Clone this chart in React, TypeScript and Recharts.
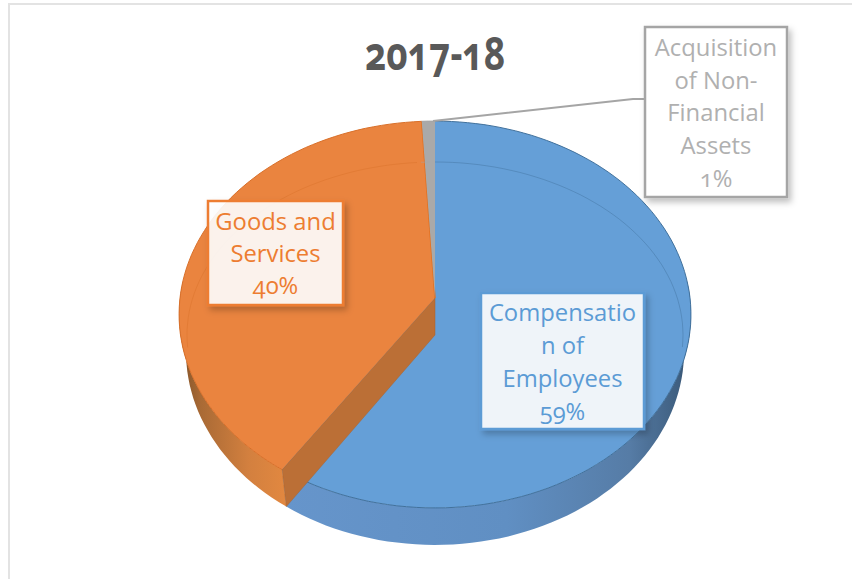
// App.tsx - 2017-18 expenditure pie, drawn as a tilted 3D disc
import React from "react";
import { PieChart, Pie, Cell } from "recharts";

const categories = ["Compensation of Employees", "Goods and Services", "Acquisition of Non-Financial Assets"];
const shares = [59.4, 39.7, 0.9];
const labelLines = [
  ["Compensatio", "n of", "Employees"],
  ["Goods and", "Services"],
  ["Acquisition", "of Non-", "Financial", "Assets"],
];
const title = "2017-18";

const topColors = ["#659fd7", "#ea843f", "#a9a9a9"];
const edgeColors = ["#41719c", "#d9702a", "#a5a5a5"];
const labelColors = ["#5b9bd5", "#ed7d31", "#b0b0b0"];

// label boxes: x, y, w, h, first baseline, line step
const labelBoxes = [
  { x: 481, y: 293, w: 163, h: 136, base: 321, step: 33 },
  { x: 208, y: 201, w: 135, h: 104, base: 230, step: 32 },
  { x: 645, y: 27, w: 142, h: 170, base: 56, step: 32.7 },
];

const FONT = "'Open Sans', Lato, sans-serif";
const TILT = 0.753;
const PERSP = -0.0853;
const DEPTH = 37;
const BOTTOM_SCALE = 0.973;

const data = categories.map((name, i) => ({ name, value: shares[i] }));

// tilted circle with a bit of perspective
function project(cx: number, cy: number, r: number, deg: number) {
  const a = (deg * Math.PI) / 180;
  const u = Math.cos(a);
  const v = -Math.sin(a);
  const w = 1 + PERSP * v;
  return [cx + (r * u) / w, cy + (r * TILT * v) / w];
}

function rimPoints(cx: number, cy: number, r: number, from: number, to: number) {
  const n = Math.max(2, Math.ceil(Math.abs(to - from) / 2));
  const pts: number[][] = [];
  for (let i = 0; i <= n; i++) pts.push(project(cx, cy, r, from + ((to - from) * i) / n));
  return pts;
}

const toPath = (pts: number[][]) => pts.map((p, i) => `${i ? "L" : "M"}${p[0].toFixed(1)} ${p[1].toFixed(1)}`).join(" ");

const Slice = (props: any) => {
  const { cx, cy, outerRadius: r, startAngle, endAngle, index } = props;
  const i = index ?? 0;
  const rim = rimPoints(cx, cy, r, startAngle, endAngle);
  const top = toPath([[cx, cy], ...rim]) + " Z";

  // front wall only shows on the near half of the disc
  const wallFrom = Math.min(startAngle, 5);
  const wallTo = Math.max(endAngle, -185);
  let wall = "";
  if (wallFrom > wallTo) {
    const upper = rimPoints(cx, cy, r, wallFrom, wallTo);
    const lower = upper
      .map((p) => [cx + (p[0] - cx) * BOTTOM_SCALE, p[1] + DEPTH])
      .reverse();
    wall = toPath([...upper, ...lower]) + " Z";
  }

  // cut face, only the orange slice shows it
  const end = rim[rim.length - 1];
  const start = rim[0];
  const cutBottom = [cx + (start[0] - cx) * BOTTOM_SCALE, start[1] + DEPTH];
  const cut = i === 1 ? toPath([[cx, cy], start, cutBottom, [cx, cy + DEPTH]]) + " Z" : "";

  // faint inner bevel ring on the far half of the top
  const bevel: number[][] = [];
  for (let a = startAngle; a >= endAngle; a -= 2) {
    const norm = ((a % 360) + 360) % 360;
    if (norm > 355 || norm < 185) {
      const t = (a * Math.PI) / 180;
      bevel.push([cx + 248 * Math.cos(t), cy + 37 - 173 * Math.sin(t)]);
    }
  }

  const gid = `wall${i}`;
  return (
    <g>
      <defs>
        {i === 0 ? (
          <linearGradient id={gid} x1="0" y1="0" x2="1" y2="0">
            <stop offset="0" stopColor="#6695cb" />
            <stop offset="0.55" stopColor="#608fc3" />
            <stop offset="0.85" stopColor="#567ca6" />
            <stop offset="0.97" stopColor="#3f5f80" />
            <stop offset="1" stopColor="#2f4a68" />
          </linearGradient>
        ) : (
          <linearGradient id={gid} x1="0" y1="0" x2="1" y2="0">
            <stop offset="0" stopColor="#7f5128" />
            <stop offset="0.2" stopColor="#a96a35" />
            <stop offset="0.65" stopColor="#d3803f" />
            <stop offset="1" stopColor="#e28840" />
          </linearGradient>
        )}
      </defs>
      {wall && <path d={wall} fill={`url(#${gid})`} stroke="none" />}
      <path d={top} fill={topColors[i]} stroke="none" />
      <path d={toPath(rim)} fill="none" stroke={edgeColors[i]} strokeWidth={1} />
      {cut && <path d={cut} fill="#bb6f36" stroke="#a8622e" strokeWidth={0.5} />}
      {i === 1 && <path d={toPath([[cx, cy], end])} stroke="#e2701f" strokeWidth={1.5} fill="none" />}
      {bevel.length > 1 && <path d={toPath(bevel)} fill="none" stroke={edgeColors[i]} strokeOpacity={0.55} strokeWidth={0.8} />}
    </g>
  );
};

const SliceLabel = (props: any) => {
  const { index } = props;
  const box = labelBoxes[index];
  const color = labelColors[index];
  const lines = [...labelLines[index], `${Math.round(shares[index])}%`];
  return (
    <g>
      {index === 2 && (
        <polyline points="433,121 633,99 645,99" fill="none" stroke="#a5a5a5" strokeWidth={2} />
      )}
      <rect
        x={box.x}
        y={box.y}
        width={box.w}
        height={box.h}
        fill="#ffffff"
        fillOpacity={index === 2 ? 1 : 0.89}
        stroke={index === 2 ? "#a5a5a5" : color}
        strokeWidth={2.5}
        filter="url(#boxShadow)"
      />
      {lines.map((line, n) => (
        <text
          key={n}
          x={box.x + box.w / 2}
          y={box.base + n * box.step}
          textAnchor="middle"
          fontFamily={FONT}
          fontSize={23.8}
          fill={color}
          style={{ fontVariantNumeric: "oldstyle-nums" }}
        >
          {line}
        </text>
      ))}
    </g>
  );
};

export default function App() {
  return (
    <div style={{ position: "absolute", left: 0, top: 0, width: 852, height: 579, background: "#ffffff", overflow: "hidden" }}>
      <div style={{ position: "absolute", left: 8, top: 3, width: 844, height: 576, borderTop: "2px solid #e3e3e3", borderLeft: "2px solid #e3e3e3", boxSizing: "border-box" }} />
      <div style={{ position: "absolute", left: 0, top: 0 }}>
        <PieChart width={852} height={579} margin={{ top: 0, right: 0, bottom: 0, left: 0 }}>
          <defs>
            <filter id="boxShadow" x="-10%" y="-10%" width="125%" height="125%">
              <feDropShadow dx="3" dy="4" stdDeviation="3" floodColor="#000000" floodOpacity="0.25" />
            </filter>
          </defs>
          <text
            x={435}
            y={70}
            textAnchor="middle"
            fontFamily={FONT}
            fontWeight={700}
            fontSize={46}
            textLength={140}
            lengthAdjust="spacingAndGlyphs"
            fill="#595959"
            style={{ fontVariantNumeric: "oldstyle-nums" }}
          >
            {title}
          </text>
          <Pie
            data={data}
            dataKey="value"
            nameKey="name"
            cx={435}
            cy={298}
            innerRadius={0}
            outerRadius={255}
            startAngle={90}
            endAngle={-270}
            paddingAngle={0}
            stroke="none"
            shape={Slice}
            label={SliceLabel}
            labelLine={false}
            isAnimationActive={false}
          >
            {data.map((d, i) => (
              <Cell key={d.name} fill={topColors[i]} />
            ))}
          </Pie>
        </PieChart>
      </div>
    </div>
  );
}
